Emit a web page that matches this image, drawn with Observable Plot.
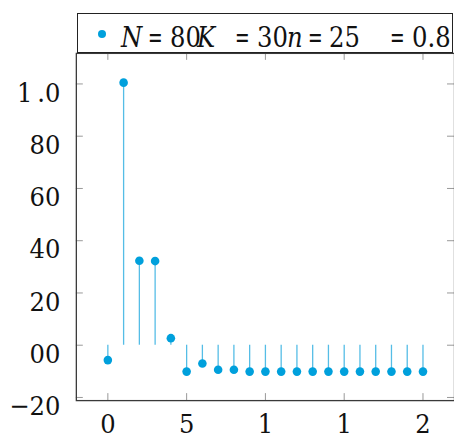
<!DOCTYPE html>
<html>
<head>
<meta charset="utf-8">
<script src="https://cdn.jsdelivr.net/npm/d3@7"></script>
<script src="https://cdn.jsdelivr.net/npm/@observablehq/plot@0.6"></script>
<style>
  html, body { margin: 0; padding: 0; background: #fff; }
  #wrap { position: relative; width: 454px; height: 434px; overflow: hidden; }
  #legend { position: absolute; left: 77px; top: 13px; width: 376px; height: 40px; box-sizing: border-box;
            border: 1.3px solid #222; background: #fff; font-family: "DejaVu Serif", serif; font-stretch: condensed; color: #111; }
  #legend span { position: absolute; top: 7px; font-size: 27px; line-height: 34px; white-space: nowrap; }
  #legend .i { font-style: italic; }
  #legend .eq { transform: scaleX(0.72); transform-origin: left center; }
  #legend .dot { position: absolute; width: 8.6px; height: 8.6px; border-radius: 50%; background: #00a0dc; }
  svg { position: absolute; left: 0; top: 0; }
  svg text { font-stretch: condensed; }
</style>
</head>
<body>
<div id="wrap"></div>
<script>
// data
const xValues = [0,1,2,3,4,5,6,7,8,9,10,11,12,13,14,15,16,17,18,19,20];
const yValues = [-5.7,100.5,32.3,32.2,2.7,-10.1,-7.0,-9.4,-9.4,-10.1,-10.1,-10.1,-10.1,-10.1,-10.1,-10.1,-10.1,-10.1,-10.1,-10.1,-10.1];
const xTicks = [0,5,10,15,20];
const xTickLabels = ["0","5","1","1","2"];
const yTicks = [-20,0,20,40,60,80,100];
const yTickLabels = ["\u221220","00","20","40","60","80","1\u2009.0"];
const legendParts = [
  {t:"N", c:"i"}, {t:"=", c:"eq"}, {t:"80"}, {t:"K", c:"i"}, {t:"=", c:"eq"}, {t:"30"},
  {t:"n", c:"i"}, {t:"=", c:"eq"}, {t:"25"}, {t:"=", c:"eq"}, {t:"0.8"}
];
const legendX = [120, 147, 169, 196, 234, 256, 286, 307, 328, 389, 411];

const data = xValues.map((x, k) => ({x, y: yValues[k]}));
const font = "DejaVu Serif, serif";

const chart = Plot.plot({
  width: 455, height: 434,
  marginLeft: 76, marginRight: 0, marginTop: 53, marginBottom: 33,
  style: {background: "transparent", overflow: "visible"},
  x: {domain: [-2, 22], axis: null},
  y: {domain: [-21.2, 111.7], axis: null},
  marks: [
    Plot.tickY(yTicks, {y: d => d, insetRight: 372, stroke: "#999", strokeWidth: 1}),
    Plot.tickY(yTicks, {y: d => d, insetLeft: 372, stroke: "#999", strokeWidth: 1}),
    Plot.tickX(xTicks, {x: d => d, insetTop: 341, stroke: "#999", strokeWidth: 1}),
    Plot.tickX(xTicks, {x: d => d, insetBottom: 341, stroke: "#999", strokeWidth: 1}),
    Plot.frame({stroke: "#3a3a3a", strokeWidth: 1.3}),
    Plot.ruleX(data, {x: "x", y1: 0, y2: "y", stroke: "#55bde6", strokeWidth: 1.3}),
    Plot.dot(data, {x: "x", y: "y", r: 4.3, fill: "#00a0dc", stroke: null}),
    Plot.text(yTicks, {y: d => d, text: (d, i) => yTickLabels[i], frameAnchor: "left", textAnchor: "end",
      dx: -16, dy: 9, fontSize: 27, fontFamily: font, fill: "#111"}),
    Plot.text(xTicks, {x: d => d, text: (d, i) => xTickLabels[i], frameAnchor: "bottom", lineAnchor: "top",
      dy: 13, fontSize: 27, fontFamily: font, fill: "#111"})
  ]
});
const wrap = document.getElementById("wrap");
wrap.appendChild(chart);

const legend = document.createElement("div");
legend.id = "legend";
const dot = document.createElement("div");
dot.className = "dot";
dot.style.left = (101 - 77 - 4.3) + "px";
dot.style.top = (33 - 13 - 4.3) + "px";
legend.appendChild(dot);
legendParts.forEach((p, k) => {
  const s = document.createElement("span");
  s.textContent = p.t;
  if (p.c) s.className = p.c;
  s.style.left = (legendX[k] - 77) + "px";
  legend.appendChild(s);
});
wrap.appendChild(legend);
</script>
</body>
</html>
